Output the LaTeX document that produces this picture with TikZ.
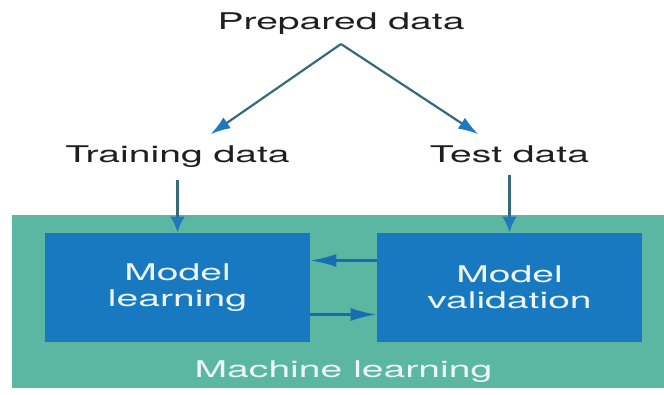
\documentclass[tikz,border=0pt]{standalone}
\usepackage{fontspec}
\setsansfont[FakeStretch=1.7]{TeX Gyre Heros}
\usetikzlibrary{arrows.meta}
\definecolor{mlteal}{RGB}{92,183,162}
\definecolor{mlblue}{RGB}{24,120,192}
\definecolor{headblue}{RGB}{30,122,190}
\definecolor{stemgray}{RGB}{55,105,125}
\definecolor{softwhite}{RGB}{236,246,246}

\begin{document}
\begin{tikzpicture}[x=0.5pt, y=-0.5pt,
  every node/.style={font=\sffamily\fontsize{11.5}{13}\selectfont},
  datalabel/.style={inner sep=0pt, outer sep=6pt, text=black!88, anchor=base},
  stage/.style={fill=mlblue, text=softwhite, minimum width=132.5pt, minimum height=54.5pt, align=center, inner sep=0pt},
  branch/.style={draw=stemgray, line width=1.1pt, -{Latex[length=10pt,width=6.5pt,color=headblue]}},
  feed/.style={draw=stemgray, line width=1.6pt, -{Latex[length=8pt,width=7.5pt,color=headblue]}},
  backforth/.style={draw=mlblue!92!black, line width=1.2pt, -{Latex[length=13pt,width=6.5pt]}}]
\useasboundingbox (0,0) rectangle (664,395);
\node (mlbox) [fill=mlteal, minimum width=326pt, minimum height=86pt, inner sep=0pt] at (338,301.5) {};
\node (learn) [stage] at (177.5,287.5) {Model\\learning};
\node (valid) [stage] at (509.5,287.5) {Model\\validation};
\node (ml) [datalabel, text=softwhite] at (343.5,377) {Machine learning};
\node (prep) [datalabel, outer sep=4.5pt] at (341,30) {Prepared data};
\node (train) [datalabel] at (177.5,163) {Training data};
\node (test) [datalabel] at (509.5,163) {Test data};
\coordinate (fork) at (prep.south);
\draw[branch] (fork) -- (train);
\draw[branch] (fork) -- (test);
\draw[feed] (train) -- (learn);
\draw[feed] (test) -- (valid);
\draw[backforth] ([yshift=13.5pt]valid.west) -- ([yshift=13.5pt]learn.east);
\draw[backforth] ([yshift=-13.5pt]learn.east) -- ([yshift=-13.5pt]valid.west);
\end{tikzpicture}
\end{document}
